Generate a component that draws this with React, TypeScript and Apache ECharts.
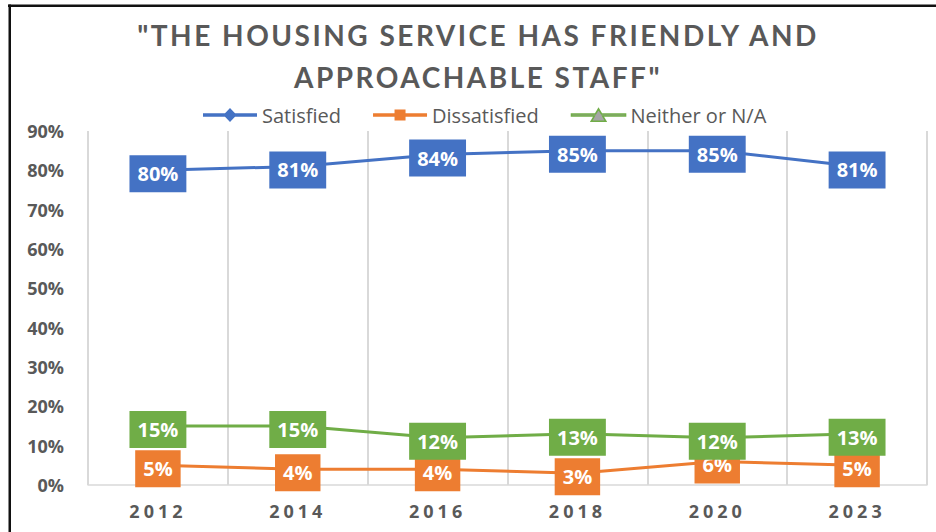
import React, { useEffect, useRef } from "react";
import * as echarts from "echarts";

const CATEGORIES = ["2012", "2014", "2016", "2018", "2020", "2023"];
const SATISFIED = [80, 81, 84, 85, 85, 81];
const DISSATISFIED = [5, 4, 4, 3, 6, 5];
const NEITHER = [15, 15, 12, 13, 12, 13];
const TITLE_LINES = ['"THE HOUSING SERVICE HAS FRIENDLY AND', 'APPROACHABLE STAFF"'];
const SERIES_NAMES = ["Satisfied", "Dissatisfied", "Neither or N/A"];

const BLUE = "#4472C4";
const ORANGE = "#ED7D31";
const GREEN = "#70AD47";
const GREY_TEXT = "#595959";
const GRID_GREY = "#D9D9D9";

// Legend icons: a thick line with the series marker in its middle (54 x 14 box)
const ICON_DIAMOND = "path://M0 5.25 H22 L27 0 L32 5.25 H54 V8.75 H32 L27 14 L22 8.75 H0 Z";
const ICON_SQUARE = "path://M0 5.25 H21.5 V1.5 H32.5 V5.25 H54 V8.75 H32.5 V12.5 H21.5 V8.75 H0 Z";
const ICON_TRIANGLE = "path://M1 6 H24.1 L27 1 L29.9 6 H53 V8 H31.1 L34 13 H20 L22.9 8 H1 Z";

function makeSeries(name: string, data: number[], color: string, symbol: string) {
  return {
    name,
    type: "line",
    data,
    symbol,
    symbolSize: 10,
    showSymbol: true,
    lineStyle: { color, width: 3 },
    itemStyle: { color },
    label: {
      show: true,
      position: "inside",
      offset: [0, 3.5],
      formatter: "{c}%",
      color: "#FFFFFF",
      fontFamily: "Open Sans",
      fontWeight: "bold",
      fontSize: 20,
      lineHeight: 20,
      backgroundColor: color,
      padding: [10, 8, 7, 8],
    },
  };
}

export default function App() {
  const ref = useRef<HTMLDivElement>(null);

  useEffect(() => {
    if (!ref.current) return;
    const chart = echarts.init(ref.current, undefined, { renderer: "svg" });

    const applySpacing = () => {
      const el = ref.current;
      if (!el) return;
      el.querySelectorAll("text").forEach((t) => {
        const s = t.textContent || "";
        if (TITLE_LINES.includes(s)) t.setAttribute("letter-spacing", "2.5");
        else if (CATEGORIES.includes(s)) t.setAttribute("letter-spacing", "4");
      });
    };

    chart.setOption({
      animation: false,
      backgroundColor: "#FFFFFF",
      title: {
        text: TITLE_LINES.join("\n"),
        left: 478,
        top: 14,
        padding: 0,
        textAlign: "center",
        textStyle: {
          fontFamily: "Lato",
          fontWeight: "bold",
          fontSize: 28,
          lineHeight: 42,
          color: GREY_TEXT,
        },
      },
      legend: {
        left: 203,
        top: 103,
        padding: 0,
        itemWidth: 54,
        itemHeight: 14,
        itemGap: 32,
        symbolKeepAspect: true,
        textStyle: { fontFamily: "Open Sans", fontSize: 20, color: GREY_TEXT, lineHeight: 24 },
        data: [
          { name: SERIES_NAMES[0], icon: ICON_DIAMOND, itemStyle: { color: BLUE, borderWidth: 0 } },
          { name: SERIES_NAMES[1], icon: ICON_SQUARE, itemStyle: { color: ORANGE, borderWidth: 0 } },
          {
            name: SERIES_NAMES[2],
            icon: ICON_TRIANGLE,
            itemStyle: { color: "#A5A5A5", borderColor: GREEN, borderWidth: 1.6 },
          },
        ],
      },
      grid: { left: 88, right: 9, top: 131, bottom: 47 },
      xAxis: {
        type: "category",
        data: CATEGORIES,
        boundaryGap: true,
        axisLine: { show: true, lineStyle: { color: GRID_GREY, width: 1.5 } },
        axisTick: { show: false },
        splitLine: { show: true, lineStyle: { color: GRID_GREY, width: 2 } },
        axisLabel: {
          margin: 17,
          fontFamily: "Open Sans",
          fontWeight: "bold",
          fontSize: 18,
          color: GREY_TEXT,
        },
      },
      yAxis: {
        type: "value",
        min: 0,
        max: 90,
        interval: 10,
        axisLine: { show: false },
        axisTick: { show: false },
        splitLine: { show: false },
        axisLabel: {
          formatter: "{value}%",
          margin: 24,
          fontFamily: "Open Sans",
          fontWeight: "bold",
          fontSize: 18,
          color: GREY_TEXT,
        },
      },
      graphic: [
        { type: "rect", silent: true, shape: { x: 8, y: 4.5, width: 928, height: 2.5 }, style: { fill: "#111111" }, z: 100 },
        { type: "rect", silent: true, shape: { x: 8.5, y: 4.5, width: 2.5, height: 528 }, style: { fill: "#111111" }, z: 100 },
      ],
      series: [
        makeSeries(SERIES_NAMES[0], SATISFIED, BLUE, "diamond"),
        makeSeries(SERIES_NAMES[1], DISSATISFIED, ORANGE, "rect"),
        makeSeries(SERIES_NAMES[2], NEITHER, GREEN, "triangle"),
      ],
    });

    applySpacing();
    chart.on("rendered", applySpacing);
    chart.on("finished", applySpacing);

    return () => {
      chart.dispose();
    };
  }, []);

  return (
    <div
      ref={ref}
      style={{ position: "fixed", left: 0, top: 0, width: 936, height: 532, background: "#FFFFFF" }}
    />
  );
}
